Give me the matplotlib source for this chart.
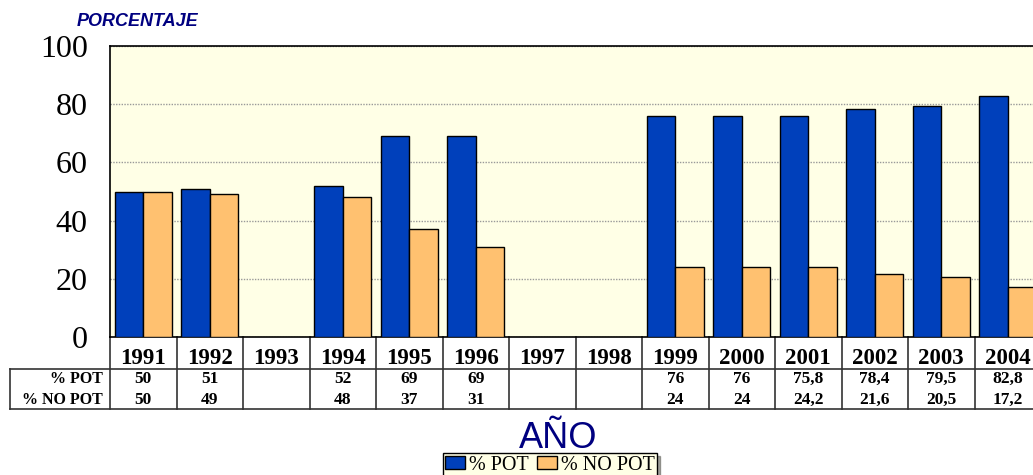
import numpy as np
import matplotlib
matplotlib.use("Agg")
from matplotlib import pyplot as plt
from matplotlib.patches import Patch

years = ["1991", "1992", "1993", "1994", "1995", "1996", "1997",
         "1998", "1999", "2000", "2001", "2002", "2003", "2004"]
pot = [50, 51, None, 52, 69, 69, None, None, 76, 76, 75.8, 78.4, 79.5, 82.8]
no_pot = [50, 49, None, 48, 37, 31, None, None, 24, 24, 24.2, 21.6, 20.5, 17.2]
series_names = ["% POT", "% NO POT"]

blue = "#0040BB"
orange = "#FFC170"
bg = "#FFFFE6"
navy = "#000080"
serif = "Liberation Serif"


def fmt(v):
    if v is None:
        return ""
    if float(v).is_integer():
        return str(int(v))
    return str(v).replace(".", ",")


fig = plt.figure(figsize=(10.33, 4.75), dpi=100)
ax = fig.add_axes([110 / 1033, 1 - 337 / 475, 931 / 1033, 291 / 475])
ax.set_facecolor(bg)

x = np.arange(len(years))
w = 0.43
pv = np.array([np.nan if v is None else v for v in pot])
nv = np.array([np.nan if v is None else v for v in no_pot])
ax.bar(x - w / 2, pv, w, color=blue, edgecolor="black", linewidth=1.0, zorder=3)
ax.bar(x + w / 2, nv, w, color=orange, edgecolor="black", linewidth=1.0, zorder=3)

ax.set_xlim(-0.5, len(years) - 0.5)
ax.set_ylim(0, 100)
ax.set_yticks([0, 20, 40, 60, 80, 100])
ax.set_xticks([])
ax.tick_params(axis="y", length=0, pad=16)
for lab in ax.get_yticklabels():
    lab.set_fontfamily(serif)
    lab.set_fontsize(23)
ax.yaxis.grid(True, color="#999999", linestyle=(0, (1, 1)), linewidth=1.0, zorder=1)
for s in ["top", "left", "bottom"]:
    ax.spines[s].set_color("black")
    ax.spines[s].set_linewidth(1.2)
ax.spines["right"].set_visible(False)

# data table under the axis
def py(p):
    return (337 - p) * 100 / 291

y_head = py(369)
y_bot = py(409)
x_left = (10 - 110) / 66.5 - 0.5
kw = dict(color="#333333", linewidth=1.2, clip_on=False)
ax.plot([x_left, len(years) - 0.5], [y_head, y_head], **kw)
ax.plot([x_left, len(years) - 0.5], [y_bot, y_bot], **kw)
ax.plot([x_left, x_left], [y_head, y_bot], **kw)
for i in range(len(years) + 1):
    ax.plot([i - 0.5, i - 0.5], [0, y_bot], **kw)

for i, yr in enumerate(years):
    ax.text(i, py(358), yr, ha="center", va="center", fontfamily=serif,
            fontweight="bold", fontsize=16.5, clip_on=False)
    ax.text(i, py(379), fmt(pot[i]), ha="center", va="center", fontfamily=serif,
            fontweight="bold", fontsize=12.5, clip_on=False)
    ax.text(i, py(400), fmt(no_pot[i]), ha="center", va="center", fontfamily=serif,
            fontweight="bold", fontsize=12.5, clip_on=False)

x_lab = (103 - 110) / 66.5 - 0.5
ax.text(x_lab, py(379), series_names[0], ha="right", va="center", fontfamily=serif,
        fontweight="bold", fontsize=11.5, clip_on=False)
ax.text(x_lab, py(400), series_names[1], ha="right", va="center", fontfamily=serif,
        fontweight="bold", fontsize=11.5, clip_on=False)

fig.text(77 / 1033, 1 - 22 / 475, "PORCENTAJE", fontfamily="Liberation Sans",
         fontweight="bold", fontstyle="italic", fontsize=13, color=navy,
         ha="left", va="center")
fig.text(558 / 1033, 1 - 439 / 475, "AÑO", fontfamily="Liberation Sans",
         fontsize=26, color=navy, ha="center", va="center")

handles = [Patch(facecolor=blue, edgecolor="black"),
           Patch(facecolor=orange, edgecolor="black")]
leg = fig.legend(handles, series_names, loc="center", ncol=2,
                 bbox_to_anchor=(550 / 1033, 1 - 465 / 475),
                 prop={"family": serif, "size": 14.5}, frameon=True,
                 fancybox=False, shadow=True, edgecolor="black",
                 facecolor=bg, handlelength=1.0, handleheight=0.6,
                 handletextpad=0.2, columnspacing=0.4, borderpad=0.1,
                 borderaxespad=0)
leg.get_frame().set_linewidth(1.0)

fig.savefig("out.png", dpi=100)
